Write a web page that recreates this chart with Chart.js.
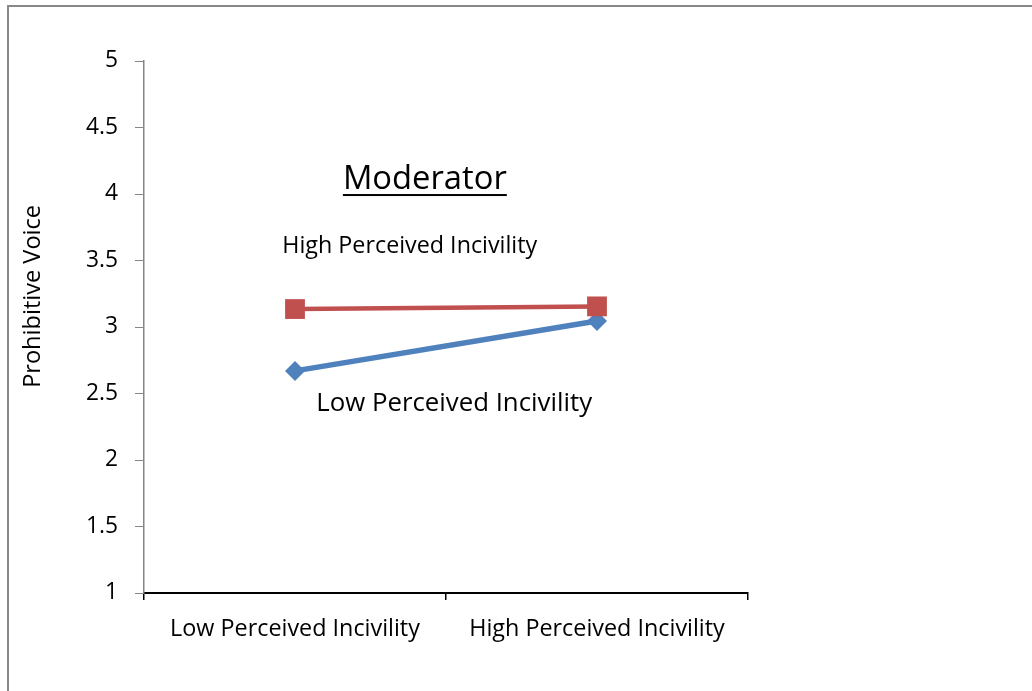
<!DOCTYPE html>
<html><head><meta charset="utf-8">
<script src="https://cdn.jsdelivr.net/npm/chart.js@4.4.1/dist/chart.umd.min.js"></script>
<style>
html,body{margin:0;padding:0;background:#fff;overflow:hidden;}
#wrap{position:relative;width:1032px;height:691px;}
#frame{position:absolute;left:7px;top:5px;width:1100px;height:800px;border:2px solid #898989;box-sizing:border-box;pointer-events:none;}
canvas{position:absolute;left:0;top:0;}
</style></head>
<body><div id="wrap"><canvas id="c" width="1032" height="691"></canvas><div id="frame"></div></div>
<script>
const categories = ["Low Perceived Incivility", "High Perceived Incivility"];
const seriesNames = ["Low Perceived Incivility", "High Perceived Incivility"];
const lowIncivility = [2.67, 3.045];
const highIncivility = [3.135, 3.155];
const yTicks = [1, 1.5, 2, 2.5, 3, 3.5, 4, 4.5, 5];
const yTitle = "Prohibitive Voice";
const moderatorTitle = "Moderator";

const FONT = "'Open Sans', Lato, sans-serif";

// pick a font size so that the text has the reference width
const mctx = document.createElement('canvas').getContext('2d');
function fitSize(text, target) {
  mctx.font = "100px " + FONT;
  return 100 * target / mctx.measureText(text).width;
}
const xLabelSize = fitSize(categories[0], 250);
const yTickSize = fitSize("4.5", 32);
const yTitleSize = fitSize(yTitle, 183);
const modSize = fitSize(moderatorTitle, 164);
const highAnnSize = fitSize(seriesNames[1], 255);
const lowAnnSize = fitSize(seriesNames[0], 276);

const annotate = {
  id: 'annotate',
  afterDraw(chart) {
    const ctx = chart.ctx, x = chart.scales.x, y = chart.scales.y;
    ctx.save();
    ctx.fillStyle = '#000';
    ctx.textAlign = 'center';
    ctx.textBaseline = 'middle';
    ctx.save();
    ctx.translate(33, y.getPixelForValue(3.23));
    ctx.rotate(-Math.PI/2);
    ctx.font = yTitleSize + "px " + FONT;
    ctx.fillText(yTitle, 0, 0);
    ctx.restore();
    ctx.font = modSize + "px " + FONT;
    const mx = x.getPixelForValue(0.43), my = y.getPixelForValue(4.105);
    ctx.fillText(moderatorTitle, mx, my);
    const w = ctx.measureText(moderatorTitle).width;
    ctx.fillRect(mx - w/2, my + 14, w, 2);
    ctx.font = highAnnSize + "px " + FONT;
    ctx.fillText(seriesNames[1], x.getPixelForValue(0.38), y.getPixelForValue(3.61));
    ctx.font = lowAnnSize + "px " + FONT;
    ctx.fillText(seriesNames[0], x.getPixelForValue(0.527), y.getPixelForValue(2.425));
    ctx.restore();
  }
};

new Chart(document.getElementById('c'), {
  type: 'line',
  data: {
    labels: categories,
    datasets: [
      { label: seriesNames[1], data: highIncivility, borderColor: '#C0504D', backgroundColor: '#C0504D',
        borderWidth: 4.5, pointStyle: 'rect', pointRadius: 14, pointHoverRadius: 14, pointBorderWidth: 0, tension: 0 },
      { label: seriesNames[0], data: lowIncivility, borderColor: '#4F81BD', backgroundColor: '#4F81BD',
        borderWidth: 5.5, pointStyle: 'rectRot', pointRadius: 10, pointHoverRadius: 10, pointBorderWidth: 0, tension: 0 }
    ]
  },
  options: {
    responsive: false,
    animation: false,
    devicePixelRatio: 1,
    layout: { padding: { left: 0, right: 284, top: 61, bottom: 0 } },
    plugins: { legend: { display: false }, tooltip: { enabled: false }, title: { display: false } },
    scales: {
      x: {
        type: 'category',
        offset: true,
        grid: { offset: true, drawOnChartArea: false, drawTicks: true, tickLength: 7, color: '#000', lineWidth: 1.5 },
        border: { color: '#000', width: 2 },
        ticks: { color: '#000', font: { family: FONT, size: xLabelSize }, padding: 15, maxRotation: 0 },
        afterFit(s) { s.height = 98; }
      },
      y: {
        min: 1, max: 5,
        afterBuildTicks(s) { s.ticks = yTicks.map(v => ({ value: v })); },
        grid: { drawOnChartArea: false, drawTicks: true, tickLength: 9, color: '#868686', lineWidth: 1 },
        border: { color: '#868686', width: 1.5 },
        ticks: { color: '#000', font: { family: FONT, size: yTickSize }, padding: 17, callback: v => String(v) },
        afterFit(s) { s.width = 144; }
      }
    }
  },
  plugins: [annotate]
});
</script></body></html>
